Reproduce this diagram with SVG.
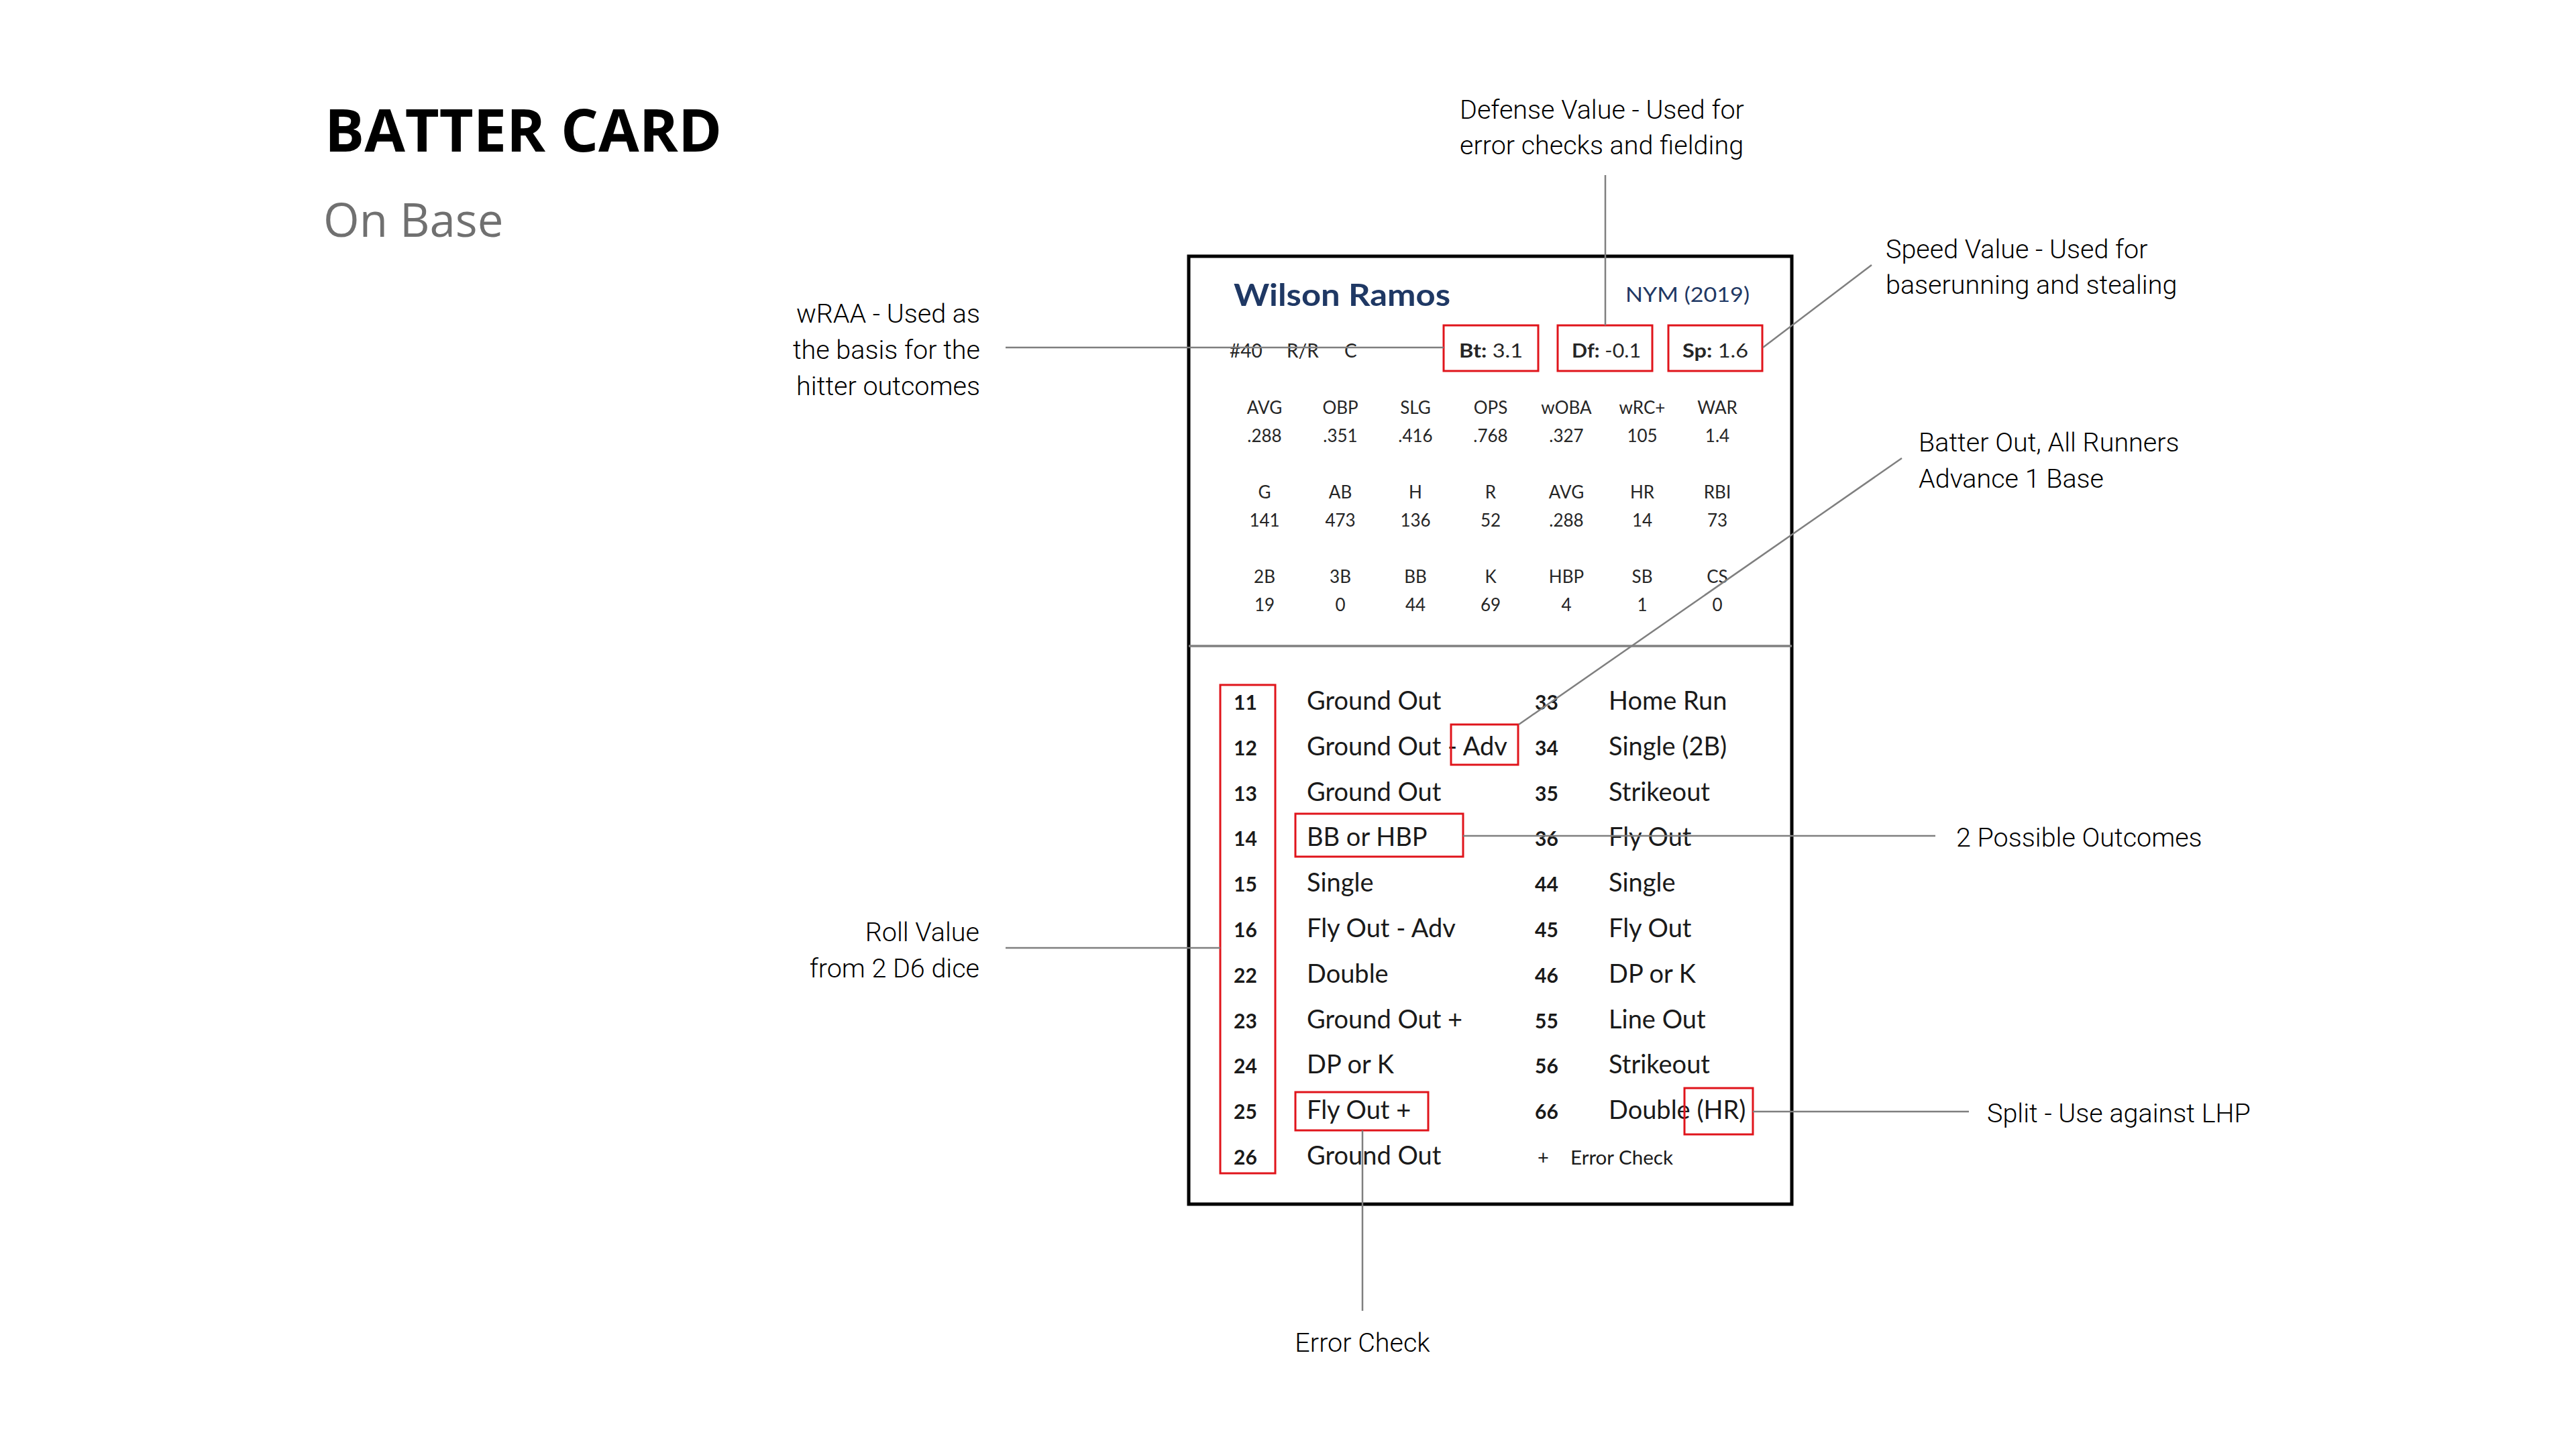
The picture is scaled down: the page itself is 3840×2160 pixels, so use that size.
<svg xmlns="http://www.w3.org/2000/svg" width="3840" height="2160" viewBox="0 0 3840 2160">
<style>
.title{font-family:"Open Sans","Noto Sans",sans-serif;font-weight:700;font-size:88px;fill:#000}
.sub{font-family:"Open Sans","Noto Sans",sans-serif;font-size:69px;fill:#707070}
.ann{font-family:Roboto,"Open Sans",sans-serif;font-weight:300;font-size:39.5px;fill:#000}
.card{font-family:Lato,"Liberation Sans",sans-serif;fill:#1a1a1a}
.name{font-size:46px;font-weight:700;fill:#1F3864}
.team{font-size:31px;fill:#1F3864}
.small{font-size:28px;fill:#262626}
.stat{font-size:26px;text-anchor:middle;fill:#262626}
.num{font-size:30px;font-weight:700}
.out{font-size:38px}
.red{fill:none;stroke:#E0141B;stroke-width:3}
.conn{stroke:#7F7F7F;stroke-width:2.5;fill:none}
</style>
<rect width="3840" height="2160" fill="#fff"/>
<g id="heading">
<text class="title" x="484" y="226">BATTER CARD</text>
<text class="sub" x="482" y="353">On Base</text>
</g>
<g id="card" class="card">
<rect x="1772" y="382" width="899" height="1413" fill="#fff" stroke="#000" stroke-width="5"/>
<line x1="1772" y1="963" x2="2671" y2="963" stroke="#808080" stroke-width="3.5"/>
<text class="name" x="1839" y="456" textLength="323" lengthAdjust="spacingAndGlyphs">Wilson Ramos</text>
<text class="team" x="2423" y="450" textLength="185" lengthAdjust="spacingAndGlyphs">NYM (2019)</text>
<text class="small" x="1833" y="533">#40</text>
<text class="small" x="1918" y="533">R/R</text>
<text class="small" x="2004" y="533">C</text>
<text class="small" x="2175" y="533" textLength="95" lengthAdjust="spacingAndGlyphs"><tspan font-weight="700">Bt:</tspan> 3.1</text>
<text class="small" x="2343" y="533" textLength="103" lengthAdjust="spacingAndGlyphs"><tspan font-weight="700">Df:</tspan> -0.1</text>
<text class="small" x="2508" y="533" textLength="98" lengthAdjust="spacingAndGlyphs"><tspan font-weight="700">Sp:</tspan> 1.6</text>
<rect class="red" x="2152" y="485" width="141" height="68"/>
<rect class="red" x="2322" y="485" width="141" height="68"/>
<rect class="red" x="2487" y="485" width="140" height="68"/>
<g class="stat">
<text x="1885" y="617">AVG</text><text x="1998" y="617">OBP</text><text x="2110" y="617">SLG</text><text x="2222" y="617">OPS</text><text x="2335" y="617">wOBA</text><text x="2448" y="617">wRC+</text><text x="2560" y="617">WAR</text>
<text x="1885" y="659">.288</text><text x="1998" y="659">.351</text><text x="2110" y="659">.416</text><text x="2222" y="659">.768</text><text x="2335" y="659">.327</text><text x="2448" y="659">105</text><text x="2560" y="659">1.4</text>
<text x="1885" y="743">G</text><text x="1998" y="743">AB</text><text x="2110" y="743">H</text><text x="2222" y="743">R</text><text x="2335" y="743">AVG</text><text x="2448" y="743">HR</text><text x="2560" y="743">RBI</text>
<text x="1885" y="785">141</text><text x="1998" y="785">473</text><text x="2110" y="785">136</text><text x="2222" y="785">52</text><text x="2335" y="785">.288</text><text x="2448" y="785">14</text><text x="2560" y="785">73</text>
<text x="1885" y="869">2B</text><text x="1998" y="869">3B</text><text x="2110" y="869">BB</text><text x="2222" y="869">K</text><text x="2335" y="869">HBP</text><text x="2448" y="869">SB</text><text x="2560" y="869">CS</text>
<text x="1885" y="911">19</text><text x="1998" y="911">0</text><text x="2110" y="911">44</text><text x="2222" y="911">69</text><text x="2335" y="911">4</text><text x="2448" y="911">1</text><text x="2560" y="911">0</text>
</g>
<g class="num">
<text x="1839" y="1058">11</text><text x="1839" y="1126">12</text><text x="1839" y="1194">13</text><text x="1839" y="1261">14</text><text x="1839" y="1329">15</text><text x="1839" y="1397">16</text><text x="1839" y="1465">22</text><text x="1839" y="1533">23</text><text x="1839" y="1600">24</text><text x="1839" y="1668">25</text><text x="1839" y="1736">26</text>
<text x="2288" y="1058">33</text><text x="2288" y="1126">34</text><text x="2288" y="1194">35</text><text x="2288" y="1261">36</text><text x="2288" y="1329">44</text><text x="2288" y="1397">45</text><text x="2288" y="1465">46</text><text x="2288" y="1533">55</text><text x="2288" y="1600">56</text><text x="2288" y="1668">66</text>
</g>
<g class="out">
<text x="1948" y="1058">Ground Out</text><text x="1948" y="1126">Ground Out - Adv</text><text x="1948" y="1194">Ground Out</text><text x="1948" y="1261">BB or HBP</text><text x="1948" y="1329">Single</text><text x="1948" y="1397">Fly Out - Adv</text><text x="1948" y="1465">Double</text><text x="1948" y="1533">Ground Out +</text><text x="1948" y="1600">DP or K</text><text x="1948" y="1668">Fly Out +</text><text x="1948" y="1736">Ground Out</text>
<text x="2398" y="1058">Home Run</text><text x="2398" y="1126">Single (2B)</text><text x="2398" y="1194">Strikeout</text><text x="2398" y="1261">Fly Out</text><text x="2398" y="1329">Single</text><text x="2398" y="1397">Fly Out</text><text x="2398" y="1465">DP or K</text><text x="2398" y="1533">Line Out</text><text x="2398" y="1600">Strikeout</text><text x="2398" y="1668">Double (HR)</text>
</g>
<text x="2292" y="1736" font-size="29">+</text>
<text x="2341" y="1736" font-size="29" textLength="153" lengthAdjust="spacingAndGlyphs">Error Check</text>
<rect class="red" x="1819" y="1021" width="82" height="728"/>
<rect class="red" x="2163" y="1080" width="100" height="60"/>
<rect class="red" x="1931" y="1213" width="250" height="64"/>
<rect class="red" x="1931" y="1628" width="198" height="57"/>
<rect class="red" x="2511" y="1622" width="102" height="69"/>
</g>
<g id="connectors" class="conn">
<line x1="1499" y1="518" x2="2152" y2="518"/>
<line x1="2393" y1="261" x2="2393" y2="485"/>
<line x1="2628" y1="518" x2="2790" y2="395"/>
<line x1="2264" y1="1080" x2="2835" y2="683"/>
<line x1="2181" y1="1246" x2="2885" y2="1246"/>
<line x1="1499" y1="1413" x2="1819" y2="1413"/>
<line x1="2613" y1="1657" x2="2935" y2="1657"/>
<line x1="2031" y1="1685" x2="2031" y2="1954"/>
</g>
<g id="label-defense" class="ann"><text x="2176" y="177">Defense Value - Used for</text><text x="2176" y="230">error checks and fielding</text></g>
<g id="label-speed" class="ann"><text x="2811" y="385">Speed Value - Used for</text><text x="2811" y="438">baserunning and stealing</text></g>
<g id="label-wraa" class="ann" text-anchor="end"><text x="1461" y="481">wRAA - Used as</text><text x="1461" y="535">the basis for the</text><text x="1461" y="589">hitter outcomes</text></g>
<g id="label-batterout" class="ann"><text x="2860" y="673">Batter Out, All Runners</text><text x="2860" y="727">Advance 1 Base</text></g>
<g id="label-roll" class="ann" text-anchor="end"><text x="1460" y="1403">Roll Value</text><text x="1460" y="1457">from 2 D6 dice</text></g>
<g id="label-outcomes" class="ann"><text x="2916" y="1262">2 Possible Outcomes</text></g>
<g id="label-split" class="ann"><text x="2962" y="1673">Split - Use against LHP</text></g>
<g id="label-error" class="ann" text-anchor="middle"><text x="2031" y="2015">Error Check</text></g>
</svg>
